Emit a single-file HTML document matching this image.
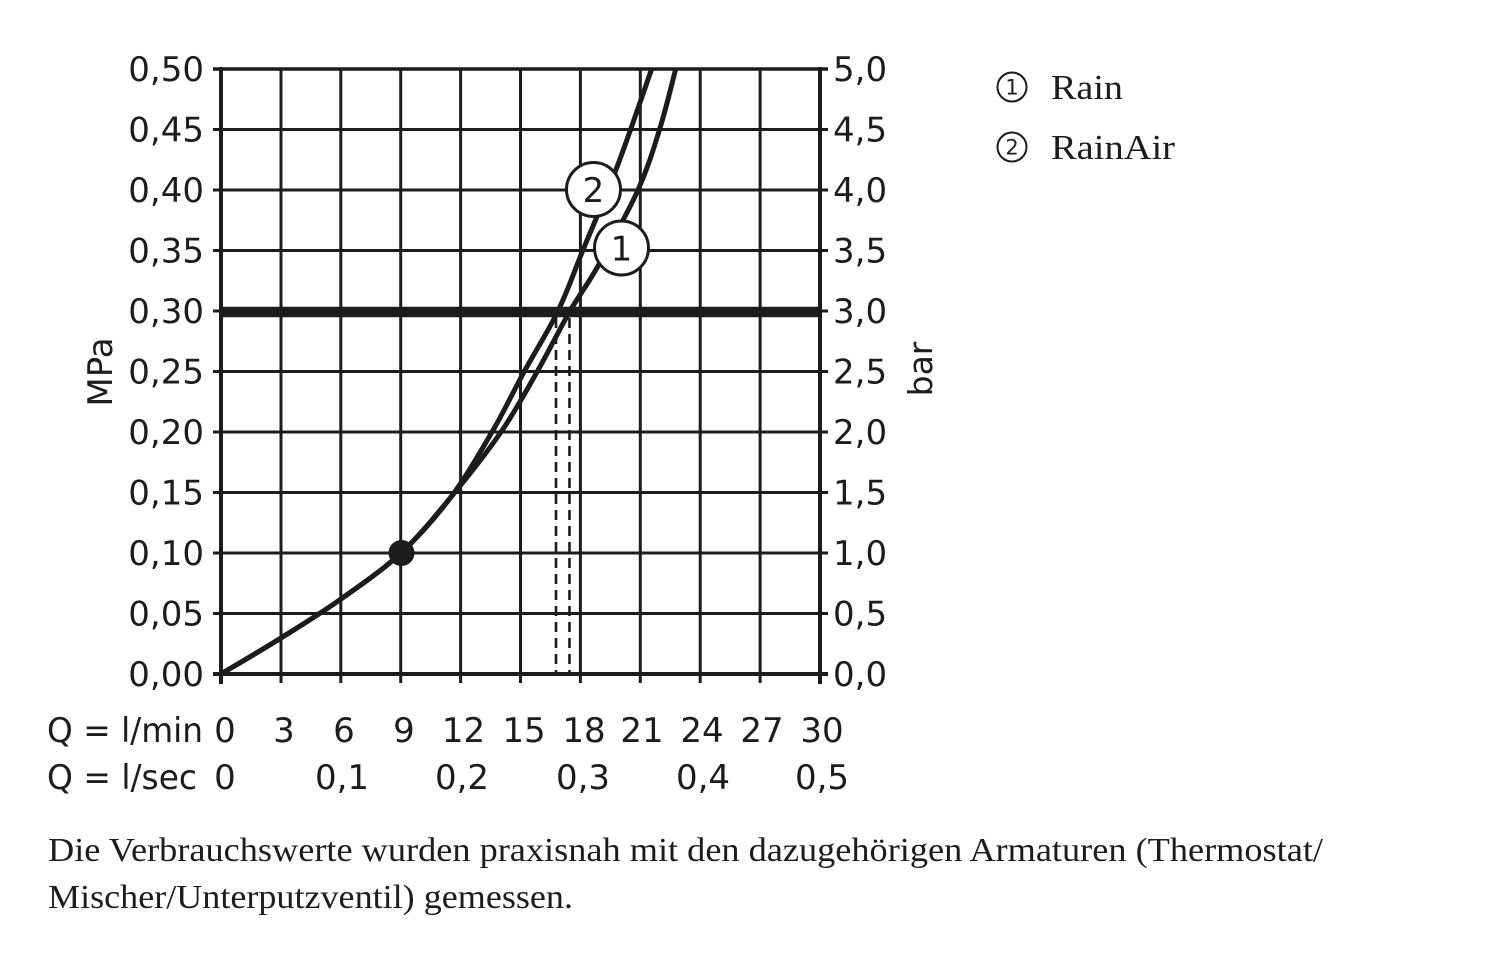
<!DOCTYPE html>
<html>
<head>
<meta charset="utf-8">
<style>
  html,body{margin:0;padding:0;background:#fff;}
  svg{display:block;}
</style>
</head>
<body>
<svg width="1500" height="956" viewBox="0 0 1500 956" xmlns="http://www.w3.org/2000/svg">
  <rect width="1500" height="956" fill="#fff"/>
  <g stroke="#1c1c1c" fill="none">
    <!-- vertical grid -->
    <g stroke-width="3">
      <line x1="281" y1="69" x2="281" y2="683"/>
      <line x1="340.8" y1="69" x2="340.8" y2="683"/>
      <line x1="400.7" y1="69" x2="400.7" y2="683"/>
      <line x1="460.6" y1="69" x2="460.6" y2="683"/>
      <line x1="520.5" y1="69" x2="520.5" y2="683"/>
      <line x1="580.4" y1="69" x2="580.4" y2="683"/>
      <line x1="640.3" y1="69" x2="640.3" y2="683"/>
      <line x1="700.2" y1="69" x2="700.2" y2="683"/>
      <line x1="760.1" y1="69" x2="760.1" y2="683"/>
    </g>
    <!-- horizontal grid -->
    <g stroke-width="3">
      <line x1="213" y1="129.5" x2="828" y2="129.5"/>
      <line x1="213" y1="190" x2="828" y2="190"/>
      <line x1="213" y1="250.5" x2="828" y2="250.5"/>
      <line x1="213" y1="311" x2="828" y2="311"/>
      <line x1="213" y1="371.5" x2="828" y2="371.5"/>
      <line x1="213" y1="432" x2="828" y2="432"/>
      <line x1="213" y1="492.5" x2="828" y2="492.5"/>
      <line x1="213" y1="553" x2="828" y2="553"/>
      <line x1="213" y1="613.5" x2="828" y2="613.5"/>
    </g>
    <!-- frame -->
    <line x1="213" y1="69" x2="828" y2="69" stroke-width="3.5"/>
    <line x1="213" y1="674" x2="828" y2="674" stroke-width="4"/>
    <line x1="221" y1="67" x2="221" y2="684" stroke-width="4"/>
    <line x1="820" y1="67" x2="820" y2="684" stroke-width="4"/>
    <!-- thick 0.30 line -->
    <line x1="221" y1="312" x2="820" y2="312" stroke-width="10.5"/>
    <!-- dashed lines -->
    <g stroke-width="2.6" stroke-dasharray="10 6">
      <line x1="556" y1="318" x2="556" y2="672"/>
      <line x1="569.5" y1="318" x2="569.5" y2="672"/>
    </g>
    <!-- curves -->
    <g stroke-width="5" stroke-linejoin="round">
      <path d="M221,674 C231,668 261,650.5 281,638 C301,625.5 321,613.2 341,599 C361,584.8 382.7,570 401,553 C419.3,536 435.8,517.2 451,497 C466.2,476.8 479.8,452.8 492,432 C504.2,411.2 513,392.2 524,372 C535,351.8 548.2,331.3 558,311 C567.8,290.7 573.2,274 583,250 C592.8,226 605.5,197.3 617,167 C628.5,136.7 646.2,84.5 652,68"/>
      <path d="M221,674 C231,668 261,650.5 281,638 C301,625.5 321,613.2 341,599 C361,584.8 382.7,570 401,553 C419.3,536 434.3,517.2 451,497 C467.7,476.8 486.7,452.8 501,432 C515.3,411.2 525.5,392.2 537,372 C548.5,351.8 559.8,328.7 570,311 C580.2,293.3 586.7,286.2 598,266 C609.3,245.8 627.7,213 638,190 C648.3,167 653.7,148.3 660,128 C666.3,107.7 673.3,78 676,68"/>
    </g>
    <!-- curve labels -->
    <circle cx="593.5" cy="189.5" r="27" fill="#fff" stroke-width="3"/>
    <circle cx="621.5" cy="248" r="27" fill="#fff" stroke-width="3"/>
  </g>
  <circle cx="401.5" cy="553" r="13" fill="#1c1c1c"/>

  <g font-family="'DejaVu Sans', 'Liberation Sans', sans-serif" fill="#1c1c1c">
    <text x="593.5" y="202" font-size="34" text-anchor="middle">2</text>
    <text x="621.5" y="260.5" font-size="34" text-anchor="middle">1</text>

    <!-- left tick labels -->
    <g font-size="34" text-anchor="end">
      <text x="204" y="81">0,50</text>
      <text x="204" y="141.5">0,45</text>
      <text x="204" y="202">0,40</text>
      <text x="204" y="262.5">0,35</text>
      <text x="204" y="323">0,30</text>
      <text x="204" y="383.5">0,25</text>
      <text x="204" y="444">0,20</text>
      <text x="204" y="504.5">0,15</text>
      <text x="204" y="565">0,10</text>
      <text x="204" y="625.5">0,05</text>
      <text x="204" y="686">0,00</text>
    </g>
    <!-- right tick labels -->
    <g font-size="34">
      <text x="833" y="81">5,0</text>
      <text x="833" y="141.5">4,5</text>
      <text x="833" y="202">4,0</text>
      <text x="833" y="262.5">3,5</text>
      <text x="833" y="323">3,0</text>
      <text x="833" y="383.5">2,5</text>
      <text x="833" y="444">2,0</text>
      <text x="833" y="504.5">1,5</text>
      <text x="833" y="565">1,0</text>
      <text x="833" y="625.5">0,5</text>
      <text x="833" y="686">0,0</text>
    </g>
    <!-- axis titles -->
    <text x="112" y="372" font-size="34" text-anchor="middle" transform="rotate(-90 112 372)">MPa</text>
    <text x="932" y="369" font-size="33" text-anchor="middle" transform="rotate(-90 932 369)">bar</text>

    <!-- bottom labels row 1 -->
    <g font-size="34" text-anchor="middle">
      <text x="225" y="742">0</text>
      <text x="284" y="742">3</text>
      <text x="344" y="742">6</text>
      <text x="404" y="742">9</text>
      <text x="463.5" y="742">12</text>
      <text x="524" y="742">15</text>
      <text x="584" y="742">18</text>
      <text x="642" y="742">21</text>
      <text x="702" y="742">24</text>
      <text x="762" y="742">27</text>
      <text x="822" y="742">30</text>
    </g>
    <text x="47" y="742" font-size="34" textLength="156" lengthAdjust="spacingAndGlyphs">Q = l/min</text>
    <!-- bottom labels row 2 -->
    <g font-size="34" text-anchor="middle">
      <text x="225" y="789">0</text>
      <text x="342" y="789">0,1</text>
      <text x="462" y="789">0,2</text>
      <text x="583" y="789">0,3</text>
      <text x="703" y="789">0,4</text>
      <text x="822" y="789">0,5</text>
    </g>
    <text x="47" y="789" font-size="34" textLength="150" lengthAdjust="spacingAndGlyphs">Q = l/sec</text>
  </g>

  <!-- legend -->
  <g stroke="#1c1c1c" fill="none" stroke-width="2">
    <circle cx="1012" cy="87" r="14.5"/>
    <circle cx="1012" cy="147" r="14.5"/>
  </g>
  <g font-family="'DejaVu Sans', 'Liberation Sans', sans-serif" fill="#1c1c1c" font-size="21" text-anchor="middle">
    <text x="1012" y="94.5">1</text>
    <text x="1012" y="154.5">2</text>
  </g>
  <g font-family="'Liberation Serif', 'Times New Roman', serif" fill="#1c1c1c" font-size="35">
    <text x="1051" y="99" textLength="72" lengthAdjust="spacingAndGlyphs">Rain</text>
    <text x="1051" y="159" textLength="124" lengthAdjust="spacingAndGlyphs">RainAir</text>
  </g>
  <g font-family="'Liberation Serif', 'Times New Roman', serif" fill="#1c1c1c" font-size="34">
    <text x="48" y="861" textLength="1275" lengthAdjust="spacingAndGlyphs">Die Verbrauchswerte wurden praxisnah mit den dazugehörigen Armaturen (Thermostat/</text>
    <text x="48" y="908" textLength="525" lengthAdjust="spacingAndGlyphs">Mischer/Unterputzventil) gemessen.</text>
  </g>
</svg>
</body>
</html>
